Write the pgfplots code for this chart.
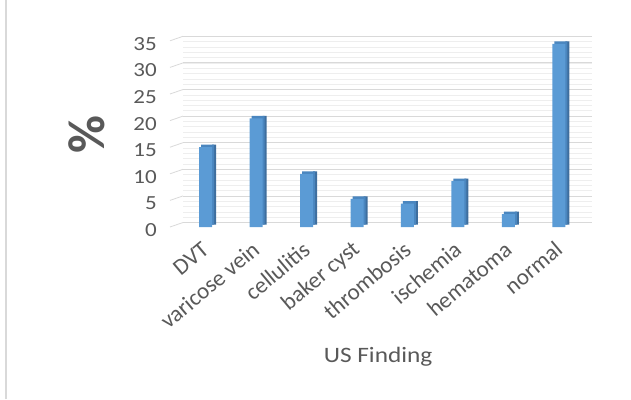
\documentclass[border=0pt]{standalone}
\usepackage{fontspec}
\setmainfont{Carlito}
\usepackage{pgfplots}
\pgfplotsset{compat=1.18}
\definecolor{barfront}{HTML}{5B9BD5}
\definecolor{barside}{HTML}{3E6E9E}
\definecolor{bartop}{HTML}{4A86BF}
\definecolor{txt}{HTML}{595959}
\definecolor{gridmaj}{HTML}{D9D9D9}
\definecolor{gridmin}{HTML}{EEEEEE}
\begin{document}
\begin{tikzpicture}
\path[use as bounding box] (0,0) rectangle (631pt,399pt);
\draw[gridmaj, line width=1.2pt] (6pt,0) -- (6pt,399pt);
\begin{axis}[
 at={(183pt,172pt)}, anchor=south west,
 scale only axis, width=409pt, height=186.2pt,
 xmin=-0.446, xmax=7.654, ymin=0, ymax=35,
 clip=false,
 axis line style={draw=none}, tick style={draw=none},
 ytick={0,5,...,35}, minor ytick={0,1,...,35},
 ymajorgrids, yminorgrids,
 major grid style={gridmaj, line width=0.8pt, yshift=4.5pt},
 minor grid style={gridmin, line width=0.6pt, yshift=4.5pt},
 xtick={0,...,7},
 xticklabels={DVT, varicose vein, cellulitis, baker cyst, thrombosis, ischemia, hematoma, normal},
 ticklabel style={text=txt},
 yticklabel style={font=\fontsize{20}{20}\selectfont, anchor=east, inner sep=0pt, xshift=-26pt, yshift=-3pt, xscale=1.15},
 xticklabel style={font=\fontsize{23}{23}\selectfont, inner sep=0pt, xshift=0pt, yshift=-15pt, rotate=40, anchor=east},
 /pgf/number format/assume math mode=true,
 xlabel={US Finding},
 xlabel style={at={(rel axis cs:0.477,0)}, anchor=center, yshift=-130pt, font=\fontsize{22}{22}\selectfont, text=txt, xscale=1.15},
 ylabel={\%},
 ylabel style={at={(rel axis cs:-0.2347,0.494)}, anchor=center, font=\fontsize{52}{52}\selectfont\bfseries, text=txt},
 ybar,
]
\pgfplotsinvokeforeach{0,5,...,35}{
  \draw[gridmaj, line width=0.8pt] ([xshift=-13pt]axis cs:-0.446,#1) -- ([yshift=4.5pt]axis cs:-0.446,#1);
}
\addplot[draw=none, fill=barside, bar width=4pt, bar shift=8.5pt, yshift=2.5pt] coordinates {(0,15) (1,20.4) (2,10) (3,5.3) (4,4.4) (5,8.6) (6,2.4) (7,34.4)};
\addplot[draw=none, fill=bartop, bar width=13pt, bar shift=2pt, yshift=2.5pt] coordinates {(0,15) (1,20.4) (2,10) (3,5.3) (4,4.4) (5,8.6) (6,2.4) (7,34.4)};
\addplot[draw=none, fill=barfront, bar width=13pt, bar shift=0pt] coordinates {(0,15) (1,20.4) (2,10) (3,5.3) (4,4.4) (5,8.6) (6,2.4) (7,34.4)};
\end{axis}
\end{tikzpicture}
\end{document}
